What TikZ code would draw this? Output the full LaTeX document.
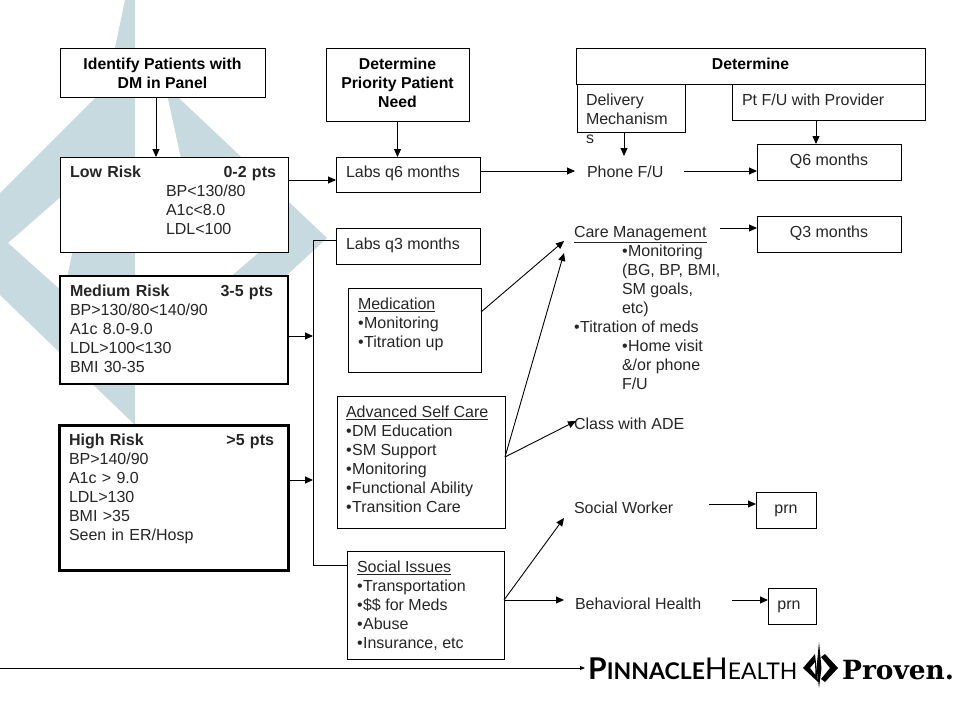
\documentclass[tikz,border=0pt]{standalone}
\usepackage{fontspec}
\usepackage{tikz}
\usetikzlibrary{arrows.meta}
\setmainfont{Liberation Sans}
\newfontfamily\logofont{Lato}
\newfontfamily\provenfont{DejaVu Serif}
\definecolor{watermark}{HTML}{C6DADF}
\newcommand{\bl}{\textbullet\kern0.5pt}
\tikzset{
  thinbox/.style={draw=black, fill=white, line width=0.9pt, inner sep=0pt, outer sep=0pt, anchor=north west},
  medbox/.style={thinbox, line width=2pt},
  highbox/.style={thinbox, line width=3pt},
  textblock/.style={anchor=north west, align=left, inner xsep=10pt, inner ysep=9pt, outer sep=0pt, text=black!85,
    font=\fontsize{16}{19}\selectfont},
  lowblock/.style={textblock, inner ysep=10pt},
  headblock/.style={anchor=north, align=center, inner xsep=0pt, inner ysep=10pt, outer sep=0pt,
    font=\bfseries\fontsize{15.8}{19}\selectfont},
  link/.style={-{Triangle[length=8pt,width=7pt]}, line width=0.9pt},
  plainlink/.style={line width=0.9pt},
}

\begin{document}
\begin{tikzpicture}[x=1pt, y=-1pt]
  \useasboundingbox (0,0) rectangle (960,720);

  % watermark behind the boxes
  \fill[watermark, even odd rule] (125,0) -- (135,0) -- (135,425) -- (0,295) -- (0,193) -- (107,86) -- cycle
    (8,243) -- (89,172) -- (64,293) -- cycle;
  \fill[watermark] (165,85) -- (327,238) -- (260,300) -- (200,303) -- (270,243) -- (190,200) -- cycle;

  % first column
  \node[thinbox, minimum width=205, minimum height=49] (identify) at (60,48) {};
  \node[headblock] at (identify.north) {Identify Patients with\\DM in Panel};
  \node[thinbox, minimum width=228, minimum height=95] (low) at (60,157) {};
  \node[textblock, text width=206] at (low.north west) {%
    \textbf{Low Risk\hfill 0-2 pts}\\
    \hspace*{96pt}BP<130/80\\
    \hspace*{96pt}A1c<8.0\\
    \hspace*{96pt}LDL<100};
  \node[medbox, minimum width=228, minimum height=108] (medium) at (60,276) {};
  \node[textblock, text width=203] at (medium.north west) {%
    \textbf{Medium Risk\hfill 3-5 pts}\\
    BP>130/80<140/90\\
    A1c 8.0-9.0\\
    LDL>100<130\\
    BMI 30-35};
  \node[highbox, minimum width=229, minimum height=145] (high) at (59,425) {};
  \node[textblock, text width=205] at (high.north west) {%
    \textbf{High Risk\hfill >5 pts}\\
    BP>140/90\\
    A1c > 9.0\\
    LDL>130\\
    BMI >35\\
    Seen in ER/Hosp};

  % second column
  \node[thinbox, minimum width=143, minimum height=73] (priority) at (326,48) {};
  \node[headblock] at (priority.north) {Determine\\Priority Patient\\Need};
  \node[thinbox, minimum width=144, minimum height=35] (labssix) at (336,157) {};
  \node[textblock] at (labssix.north west) {Labs q6 months};
  \node[thinbox, minimum width=144, minimum height=36] (labsthree) at (336,228) {};
  \node[lowblock] at (labsthree.north west) {Labs q3 months};
  \node[thinbox, minimum width=133, minimum height=84] (medication) at (348,288) {};
  \node[lowblock] at (medication.north west) {%
    \underline{Medication}\\
    \bl Monitoring\\
    \bl Titration up};
  \node[thinbox, minimum width=168, minimum height=132] (selfcare) at (337,396) {};
  \node[lowblock, inner xsep=9pt] at (selfcare.north west) {%
    \underline{Advanced Self Care}\\
    \bl DM Education\\
    \bl SM Support\\
    \bl Monitoring\\
    \bl Functional Ability\\
    \bl Transition Care};
  \node[thinbox, minimum width=157, minimum height=108] (social) at (347,551) {};
  \node[lowblock] at (social.north west) {%
    \underline{Social Issues}\\
    \bl Transportation\\
    \bl \$\$ for Meds\\
    \bl Abuse\\
    \bl Insurance, etc};

  % third column
  \node[thinbox, minimum width=349, minimum height=36] (determine) at (576,48) {};
  \node[headblock] at (determine.north) {Determine};
  \node[thinbox, minimum width=108, minimum height=48] (delivery) at (577,84) {};
  \node[lowblock, inner xsep=9pt] at (delivery.north west) {Delivery\\Mechanism\\s};
  \node[thinbox, minimum width=193, minimum height=36] (provider) at (732,84) {};
  \node[lowblock] at (provider.north west) {Pt F/U with Provider};
  \node[textblock, inner xsep=0pt] (phone) at (587,157) {Phone F/U};
  \node[textblock, inner xsep=0pt] (care) at (574,217) {%
    \underline{Care Management}\\
    \hspace*{48pt}\bl Monitoring\\
    \hspace*{48pt}(BG, BP, BMI,\\
    \hspace*{48pt}SM goals,\\
    \hspace*{48pt}etc)\\
    \bl Titration of meds\\
    \hspace*{48pt}\bl Home visit\\
    \hspace*{48pt}\&/or phone\\
    \hspace*{48pt}F/U};
  \node[textblock, inner xsep=0pt] (adeclass) at (574,409) {Class with ADE};
  \node[textblock, inner xsep=0pt] (worker) at (574,493) {Social Worker};
  \node[textblock, inner xsep=0pt] (behavior) at (575,589) {Behavioral Health};

  % fourth column
  \node[thinbox, minimum width=144, minimum height=36] (qsix) at (757,144) {};
  \node[lowblock, inner xsep=0pt, anchor=north] at (qsix.north) {Q6 months};
  \node[thinbox, minimum width=144, minimum height=36] (qthree) at (757,216) {};
  \node[lowblock, inner xsep=0pt, anchor=north] at (qthree.north) {Q3 months};
  \node[thinbox, minimum width=60, minimum height=36] (prnone) at (756,492) {};
  \node[lowblock, inner xsep=0pt, inner ysep=13pt, anchor=north] at (prnone.north) {prn};
  \node[thinbox, minimum width=48, minimum height=36] (prntwo) at (768,588) {};
  \node[lowblock, inner xsep=0pt, inner ysep=13pt, anchor=north, xshift=-3pt] at (prntwo.north) {prn};

  % free ends
  \coordinate (bracket) at (313,240);
  \coordinate (bracketend) at (313,565);
  \coordinate (phonein) at (575,171);
  \coordinate (phoneout) at (684,171);
  \coordinate (phonetop) at (624,156);
  \coordinate (medout) at (481,312);
  \coordinate (carein) at (564,241);
  \coordinate (careintwo) at (564,253);
  \coordinate (careout) at (720,228);
  \coordinate (adein) at (576,421);
  \coordinate (workerin) at (564,518);
  \coordinate (workerout) at (709,504);
  \coordinate (behaviorin) at (564,600);
  \coordinate (behaviorout) at (732,600);
  \coordinate (ruleleft) at (0,668);
  \coordinate (ruleright) at (585,668);

  % connectors
  \draw[link] (identify.south -| 156,0) -- (low.north -| 156,0);
  \draw[link] (priority.south) -- (labssix.north -| priority.south);
  \draw[link] (low.east |- 0,180) -- (labssix.west |- 0,180);
  \draw[plainlink] (labsthree.west |- bracket) -- (bracket) -- (bracketend) -- (social.west |- bracketend);
  \draw[link] (medium.east |- 0,336) -- (bracket |- 0,336);
  \draw[link] (high.east |- 0,480) -- (bracket |- 0,480);
  \draw[link] (labssix.east |- phonein) -- (phonein);
  \draw[link] (phoneout) -- (phoneout -| qsix.west);
  \draw[link] (phonetop |- delivery.south) -- (phonetop);
  \draw[link] (provider.south -| 816,0) -- (qsix.north -| 816,0);
  \draw[link] (medout) -- (carein);
  \draw[link] ([yshift=5pt]selfcare.east) -- (careintwo);
  \draw[link] ([yshift=5pt]selfcare.east) -- (adein);
  \draw[link] ([yshift=5pt]social.east) -- (workerin);
  \draw[link] ([yshift=5pt]social.east) -- (behaviorin);
  \draw[link] (careout) -- (careout -| qthree.west);
  \draw[link] (workerout) -- (workerout -| prnone.west);
  \draw[link] (behaviorout) -- (behaviorout -| prntwo.west);
  \draw[-{Triangle[length=5pt,width=4pt]}, line width=0.9pt] (ruleleft) -- (ruleright);

  % logo
  \node[anchor=base west, inner sep=0pt] (logoname) at (588,679) {\logofont
    {\bfseries\fontsize{30}{30}\selectfont P\fontsize{23}{23}\selectfont INNACLE}%
    {\fontsize{30}{30}\selectfont H\fontsize{23}{23}\selectfont EALTH}};
  \node[anchor=base west, inner sep=0pt] (logotag) at (842,679) {\provenfont\bfseries\fontsize{26.4}{26.4}\selectfont Proven.};
  \fill[black] (819,642) -- (821.5,668) -- (819,688) -- (816.5,668) -- cycle;
  \fill[black, even odd rule] (803,668) -- (815,654) -- (818,682) -- cycle (810,668) -- (815,662) -- (815.5,675) -- cycle;
  \fill[black] (825,654) -- (838,668) -- (825,682) -- (821,679) -- (830,668) -- (821,657) -- cycle;
\end{tikzpicture}
\end{document}
